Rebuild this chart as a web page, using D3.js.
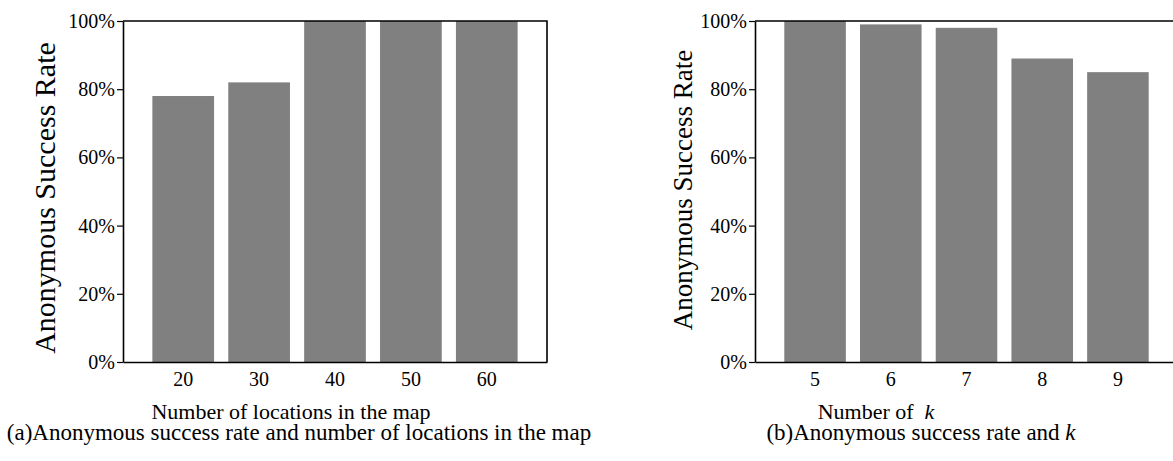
<!DOCTYPE html>
<html>
<head>
<meta charset="utf-8">
<script src="https://cdn.jsdelivr.net/npm/d3@7"></script>
<style>
  body { margin: 0; background: #fff; }
  svg { display: block; }
  text { font-family: "Liberation Serif", "Times New Roman", serif; fill: #000; }
</style>
</head>
<body>
<svg id="chart" width="1173" height="461"></svg>
<script>
// (a) success rate vs. number of locations in the map
const locationCategories = ["20", "30", "40", "50", "60"];
const locationRates = [78, 82, 100, 100, 100];

// (b) success rate vs. k
const kCategories = ["5", "6", "7", "8", "9"];
const kRates = [100, 99, 98, 89, 85];

const rateTicks = [0, 20, 40, 60, 80, 100];

const svg = d3.select("#chart");

function drawPanel(opts) {
  const { categories, values, x0, x1, y0, y1 } = opts;
  const g = svg.append("g");

  const x = d3.scaleBand()
    .domain(categories)
    .range([x0, x1])
    .paddingInner(0.187)
    .paddingOuter(0.387);

  const y = d3.scaleLinear().domain([0, 100]).range([y1, y0]);

  // bars
  g.selectAll("rect.bar")
    .data(categories.map((c, i) => ({ c, v: values[i] })))
    .join("rect")
    .attr("class", "bar")
    .attr("x", d => x(d.c))
    .attr("width", x.bandwidth())
    .attr("y", d => y(d.v))
    .attr("height", d => y(0) - y(d.v))
    .attr("fill", "#808080");

  // x axis
  const xAxis = g.append("g")
    .attr("transform", `translate(0,${y1})`)
    .call(d3.axisBottom(x).tickSize(0).tickSizeOuter(0).tickPadding(10));
  xAxis.select(".domain").attr("stroke", "#000").attr("stroke-width", 1.6);
  xAxis.selectAll("text").style("font-size", "20px").attr("font-family", null);

  // y axis
  const yAxis = g.append("g")
    .attr("transform", `translate(${x0},0)`)
    .call(d3.axisLeft(y).tickValues(rateTicks).tickSize(6).tickSizeOuter(0)
      .tickPadding(2).tickFormat(d => d + "%"));
  yAxis.select(".domain").attr("stroke", "#000").attr("stroke-width", 1.6);
  yAxis.selectAll(".tick line").attr("stroke", "#000").attr("stroke-width", 1.2);
  yAxis.selectAll("text").style("font-size", "20px").attr("font-family", null);

  // top and right frame
  g.append("path")
    .attr("d", `M${x0},${y0}H${x1}V${y1}`)
    .attr("fill", "none")
    .attr("stroke", "#000")
    .attr("stroke-width", 1.6);

  // y title
  g.append("text")
    .attr("transform", `translate(${opts.yTitleX},${opts.yTitleY}) rotate(-90)`)
    .attr("text-anchor", "middle")
    .style("font-size", opts.yTitleSize + "px")
    .text("Anonymous Success Rate");

  // x title
  const xt = g.append("text")
    .attr("x", opts.xTitleX)
    .attr("y", 419)
    .attr("text-anchor", "middle")
    .style("font-size", "22px");
  opts.xTitle.forEach(p => {
    xt.append("tspan").text(p.t).style("font-style", p.i ? "italic" : "normal");
  });

  // caption
  const cap = g.append("text")
    .attr("x", opts.captionX)
    .attr("y", 440)
    .attr("text-anchor", "middle")
    .style("font-size", "23px");
  opts.caption.forEach(p => {
    cap.append("tspan").text(p.t).style("font-style", p.i ? "italic" : "normal");
  });
}

drawPanel({
  categories: locationCategories,
  values: locationRates,
  x0: 123, x1: 547, y0: 21, y1: 362,
  yTitleX: 55, yTitleY: 198, yTitleSize: 30,
  xTitleX: 291,
  xTitle: [{ t: "Number of locations in the map" }],
  captionX: 299,
  caption: [{ t: "(a)Anonymous success rate and number of locations in the map" }]
});

drawPanel({
  categories: kCategories,
  values: kRates,
  x0: 755, x1: 1178, y0: 21, y1: 362,
  yTitleX: 692, yTitleY: 190, yTitleSize: 27,
  xTitleX: 876,
  xTitle: [{ t: "Number of\u00a0\u00a0" }, { t: "k", i: true }],
  captionX: 921,
  caption: [{ t: "(b)Anonymous success rate and " }, { t: "k", i: true }]
});
</script>
</body>
</html>
